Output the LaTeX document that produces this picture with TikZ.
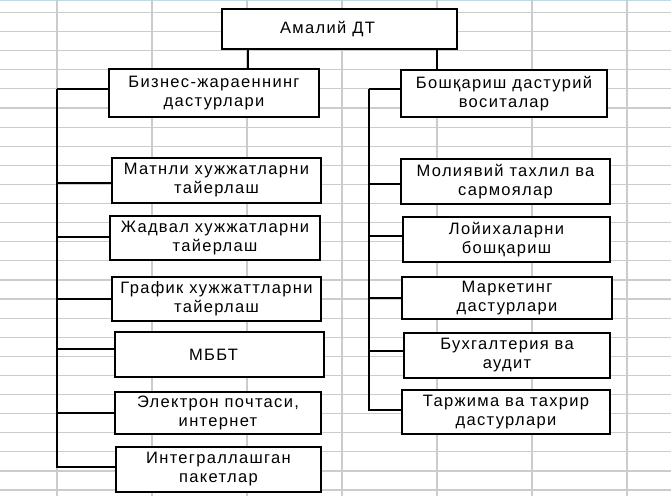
\documentclass[tikz,border=0pt]{standalone}
\usepackage{fontspec}
\usepackage{tikz}
\newfontfamily\boxfont[LetterSpace=8]{Liberation Sans}

\begin{document}
\begin{tikzpicture}[x=1pt, y=-1pt,
  every node/.style={font=\boxfont\fontsize{16.5}{19}\selectfont, align=center},
  box/.style={draw, fill=white, line width=1.3pt, inner sep=0pt},
  grid line/.style={draw=gray!40, line width=1.2pt},
  link/.style={line width=1.1pt}]
\useasboundingbox (0,0) rectangle (671,500);
\fill[white] (0,0) rectangle (671,500);
\draw[cyan!35, line width=1.5pt] (0,0.75) -- (671,0.75);
\foreach \x in {57,152,247,342,437,532,627}
  \draw[grid line] (\x,0) -- (\x,496);
\foreach \k in {0,...,25}
  \draw[grid line] (0,12.5+19.1*\k) -- (671,12.5+19.1*\k);
\node[box, minimum width=235pt, minimum height=40pt] (top) at (339.5,29) {Амалий ДТ\hspace{24pt}};
\node[box, minimum width=210pt, minimum height=48pt] (biz) at (214,93) {Бизнес-жараеннинг\\дастурлари};
\node[box, minimum width=206pt, minimum height=47pt] (bosh) at (504,93.5) {Бошқариш дастурий\\воситалар\hspace{20pt}};
\node[box, minimum width=209pt, minimum height=45pt] (matn) at (216.5,180.5) {Матнли хужжатларни\\тайерлаш\hspace{16pt}};
\node[box, minimum width=210pt, minimum height=44pt] (jadv) at (215,238) {Жадвал хужжатларни\\тайерлаш};
\node[box, minimum width=209pt, minimum height=44pt] (graf) at (216.5,299) {График хужжаттларни\\тайерлаш\hspace{12pt}};
\node[box, minimum width=209pt, minimum height=45pt] (mbbt) at (219.5,354.5) {МББТ\hspace{12pt}};
\node[box, minimum width=206pt, minimum height=42pt] (elek) at (218,413) {Электрон почтаси,\\интернет\hspace{14pt}};
\node[box, minimum width=205pt, minimum height=45pt] (integ) at (218.5,469.5) {Интеграллашган\\пакетлар\hspace{20pt}};
\node[box, minimum width=209pt, minimum height=45pt] (mol) at (505.5,181.5) {Молиявий тахлил ва\\сармоялар\hspace{20pt}};
\node[box, minimum width=207pt, minimum height=45pt] (loy) at (506.5,239.5) {Лойихаларни\\бошқариш};
\node[box, minimum width=210pt, minimum height=42pt] (mark) at (507,298) {Маркетинг\\дастурлари};
\node[box, minimum width=206pt, minimum height=45pt] (bux) at (507,355.5) {Бухгалтерия ва\\аудит\hspace{24pt}};
\node[box, minimum width=208pt, minimum height=44pt] (tarj) at (506,412) {Таржима ва тахрир\\дастурлари};
\coordinate (bizin) at ([xshift=34pt]biz.north);
\coordinate (boshin) at ([xshift=-67pt]bosh.north);
\draw[link] (top.south -| bizin) -- (bizin);
\draw[link] (top.south -| boshin) -- (boshin);
\coordinate (ltrunk) at ([yshift=4pt]biz.west -| 57,0);
\coordinate (rtrunk) at ([yshift=4.5pt]bosh.west -| 369,0);
\draw[link] (ltrunk) -- ([yshift=4pt]biz.west);
\draw[link] (rtrunk) -- ([yshift=4.5pt]bosh.west);
\foreach \n/\dy in {matn/-2.5, jadv/1, graf/0, mbbt/5.5, elek/0, integ/2.5}
  \draw[link] (ltrunk) |- ([yshift=\dy pt]\n.west);
\foreach \n/\dy in {mol/-2.5, loy/3.5, mark/0, bux/4.5, tarj/2}
  \draw[link] (rtrunk) |- ([yshift=\dy pt]\n.west);
\end{tikzpicture}
\end{document}
